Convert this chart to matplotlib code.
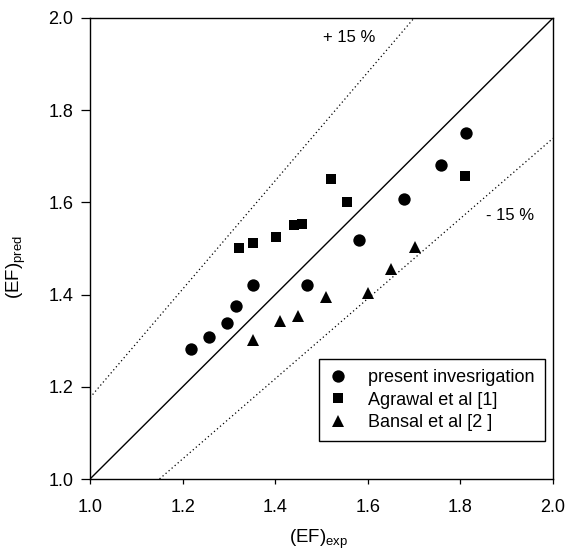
import numpy as np
import matplotlib
matplotlib.use("Agg")
import matplotlib.pyplot as plt

plt.rcParams['font.family'] = ['Liberation Sans', 'DejaVu Sans']
plt.rcParams['mathtext.fontset'] = 'custom'
plt.rcParams['mathtext.rm'] = 'Liberation Sans'
plt.rcParams['mathtext.it'] = 'Liberation Sans:italic'

# Data
present_x = [1.218, 1.258, 1.295, 1.316, 1.352, 1.469, 1.580, 1.678, 1.759, 1.813]
present_y = [1.281, 1.307, 1.338, 1.375, 1.421, 1.421, 1.519, 1.607, 1.682, 1.750]
agrawal_x = [1.321, 1.351, 1.401, 1.441, 1.457, 1.521, 1.555, 1.811]
agrawal_y = [1.501, 1.511, 1.526, 1.550, 1.553, 1.651, 1.601, 1.658]
bansal_x = [1.351, 1.410, 1.450, 1.510, 1.601, 1.650, 1.701]
bansal_y = [1.302, 1.343, 1.354, 1.394, 1.403, 1.455, 1.503]
ticks = [1.0, 1.2, 1.4, 1.6, 1.8, 2.0]
tick_labels = ['1.0', '1.2', '1.4', '1.6', '1.8', '2.0']
labels = ['present invesrigation', 'Agrawal et al [1]', 'Bansal et al [2 ]']

W, H = 577, 554
fig = plt.figure(figsize=(W / 100, H / 100), dpi=100)
ax = fig.add_axes([90 / W, (H - 479) / H, 463 / W, 461 / H])

# reference lines
lx = np.array([1.0, 2.0])
ax.plot(lx, lx, color='black', lw=1.0)
ax.plot(lx, lx / 0.85, color='black', lw=0.9, linestyle=(0, (1, 2.2)))
ax.plot(lx, lx / 1.15, color='black', lw=0.9, linestyle=(0, (1, 2.2)))

ax.plot(present_x, present_y, 'o', color='black', ms=8.9, mew=0, label=labels[0])
ax.plot(agrawal_x, agrawal_y, 's', color='black', ms=7.9, mew=0, label=labels[1])
ax.plot(bansal_x, bansal_y, '^', color='black', ms=9.2, mew=0, label=labels[2])

ax.set_xlim(1.0, 2.0)
ax.set_ylim(1.0, 2.0)
ax.set_xticks(ticks)
ax.set_xticklabels(tick_labels)
ax.set_yticks(ticks)
ax.set_yticklabels(tick_labels)
ax.tick_params(axis='x', direction='out', length=3.6, width=0.9, pad=10.5, labelsize=13)
ax.tick_params(axis='y', direction='out', length=6.5, width=0.9, pad=5.4, labelsize=13)
for s in ax.spines.values():
    s.set_linewidth(1.0)

fig.text(319 / W, 1 - 539 / H, r'(EF)$_{\mathrm{exp}}$', ha='center', va='center', fontsize=13.5)
fig.text(16 / W, 1 - 267 / H, r'(EF)$_{\mathrm{pred}}$', ha='center', va='center',
         rotation=90, fontsize=13.5)

fig.text(349 / W, 1 - 37 / H, '+ 15 %', ha='center', va='center', fontsize=12)
fig.text(510 / W, 1 - 216 / H, '- 15 %', ha='center', va='center', fontsize=12)

leg = ax.legend(loc='upper left', bbox_to_anchor=(319 / W, 1 - 359 / H),
                bbox_transform=fig.transFigure, borderaxespad=0, fontsize=13,
                frameon=True, fancybox=False, edgecolor='black', framealpha=1,
                borderpad=0.55, handlelength=1.0, handletextpad=1.17,
                labelspacing=0.32)
leg.get_frame().set_linewidth(1.0)

fig.savefig('out.png', dpi=100)
